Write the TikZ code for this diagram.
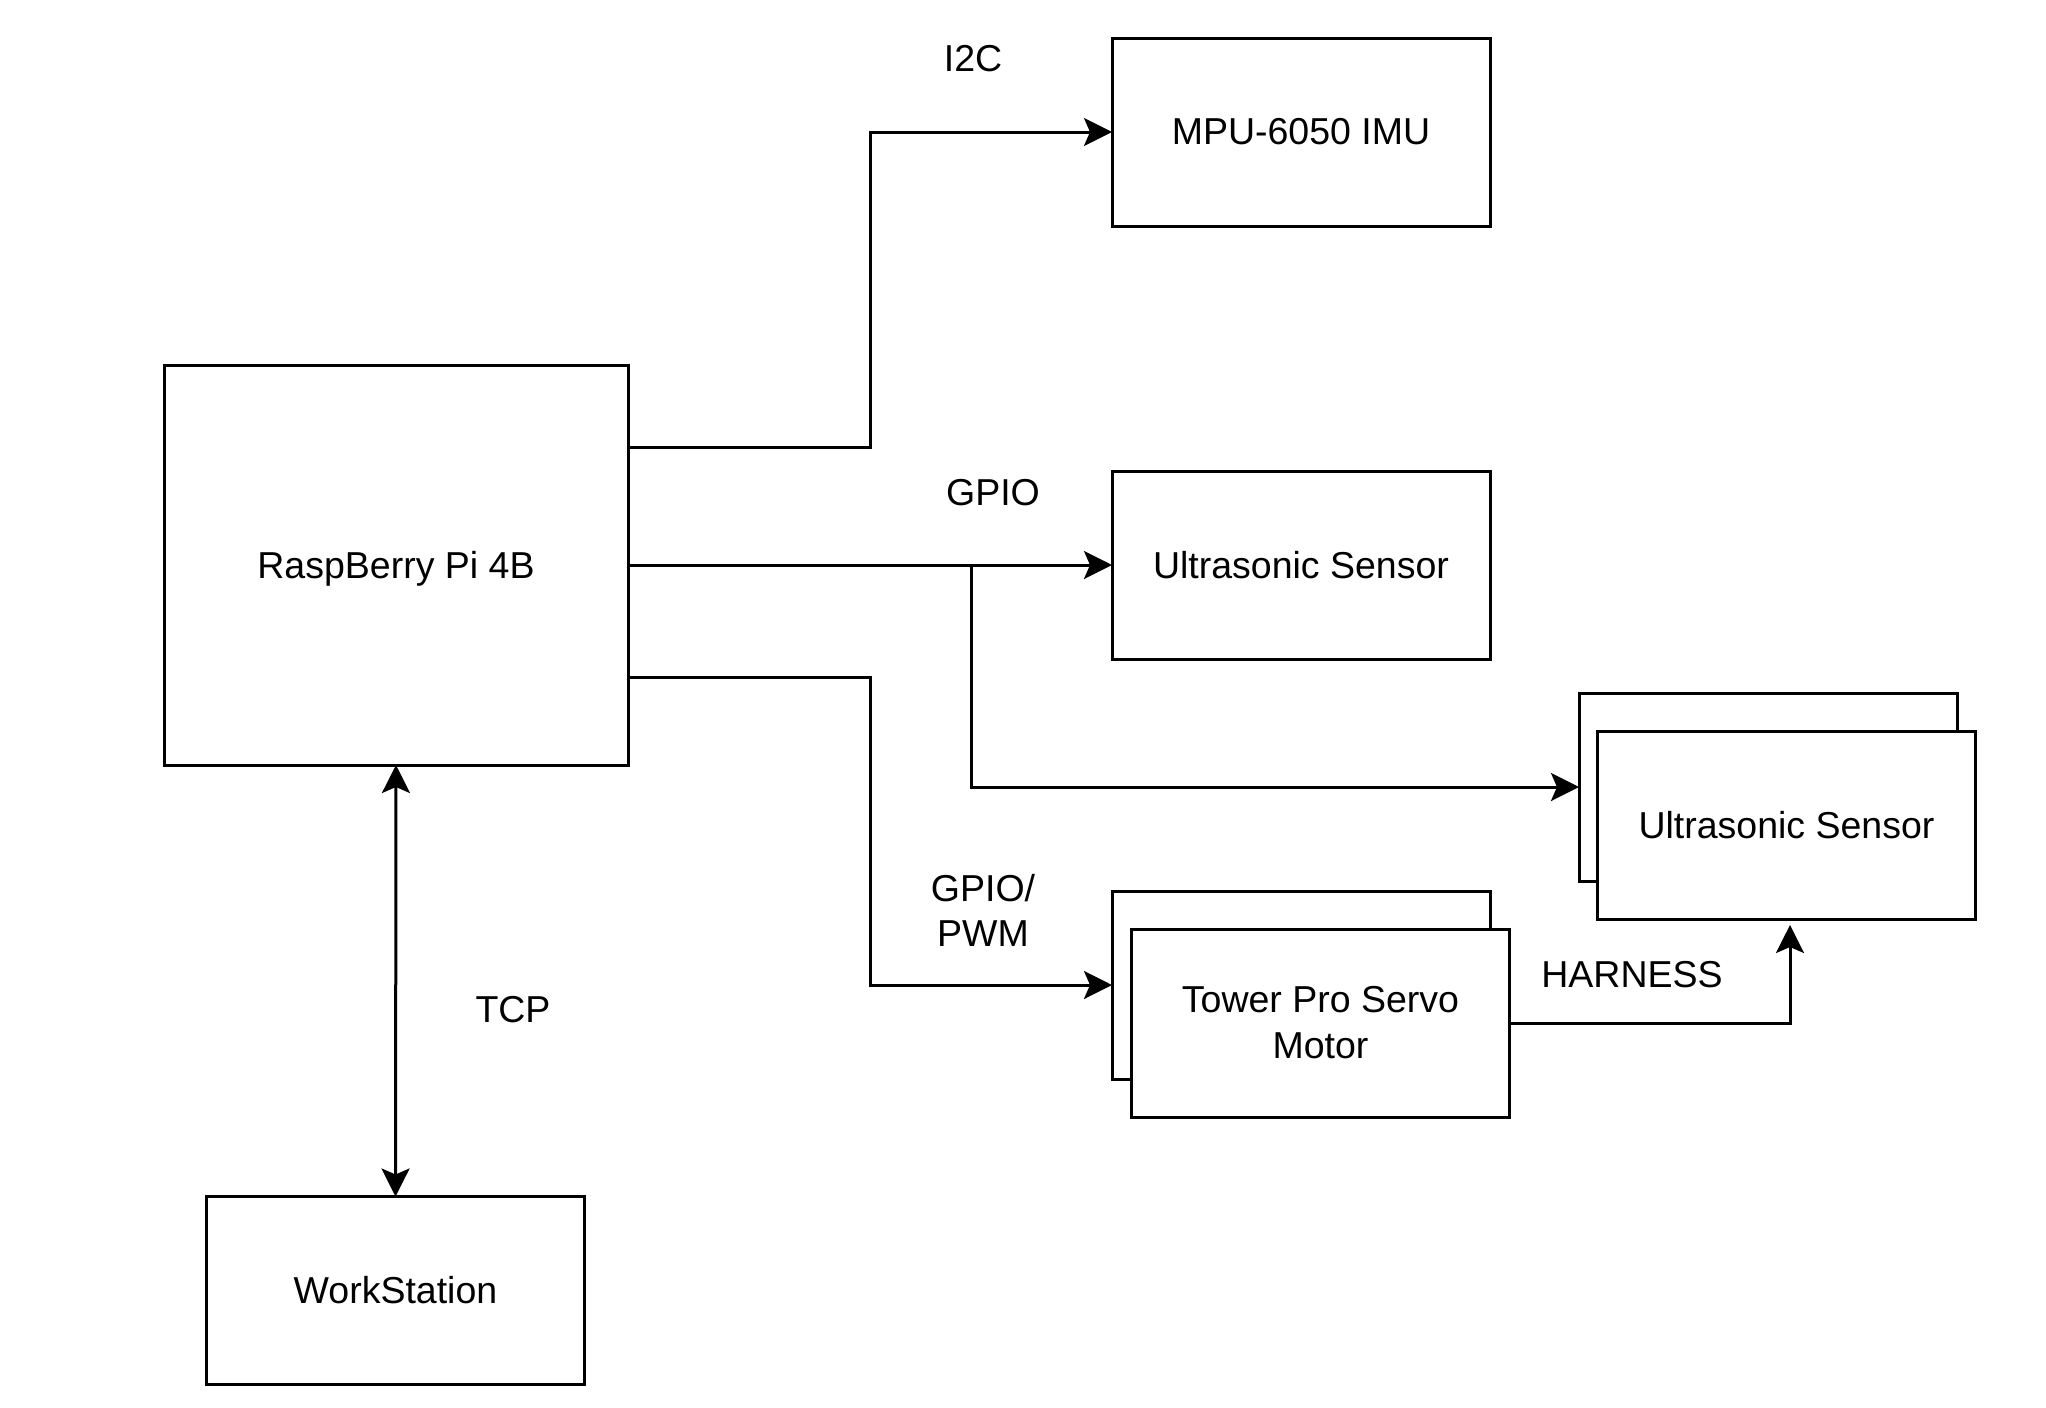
\documentclass[tikz,border=0pt]{standalone}
\usepackage{fontspec}
\setmainfont{Liberation Sans}
\usetikzlibrary{arrows.meta}
\begin{document}
\begin{tikzpicture}[x=1pt,y=-1pt,
  box/.style={draw=black,line width=3pt,fill=white,inner sep=0pt,outer sep=0pt,
    minimum width=378pt,minimum height=188pt,align=center,
    font=\fontsize{37.5}{46}\selectfont},
  lbl/.style={inner sep=0pt,align=center,font=\fontsize{37.5}{45}\selectfont},
  tip/.style={Stealth[length=28pt,width=28pt,inset=6pt]},
  conn/.style={draw=black,line width=3pt,-{Stealth[length=28pt,width=28pt,inset=6pt]}},
  dconn/.style={draw=black,line width=3pt,{Stealth[length=28pt,width=28pt,inset=6pt]}-{Stealth[length=28pt,width=28pt,inset=6pt]}}]
\useasboundingbox (0,0) rectangle (2046,1408);
\fill[white] (0,0) rectangle (2046,1408);

\node[box,minimum width=464pt,minimum height=400pt,text height=27.5pt,text depth=0pt] (rpi) at (396,565) {RaspBerry Pi 4B};
\node[box] (mpu) at (1301,132) {MPU-6050 IMU};
\node[box] (us1) at (1301,565) {Ultrasonic Sensor};
\node[box] (us2b) at (1768,787) {};
\node[box] (us2f) at (1786.5,825) {Ultrasonic Sensor};
\node[box] (srvb) at (1301,985) {};
\node[box] (srvf) at (1320.5,1023) {Tower Pro Servo\\Motor};
\node[box] (ws) at (395.5,1290.5) {WorkStation};

\coordinate (br) at (971,565);
\coordinate (hend) at (1790,925);

\draw[conn] ([yshift=117.5pt]rpi.east) -- ++(242.5,0) |- (mpu.west);
\draw[conn] (rpi.east) -- (us1.west);
\draw[conn] (br) |- (us2b.west);
\draw[conn] ([yshift=-112pt]rpi.east) -- ++(242.5,0) |- (srvb.west);
\draw[conn] (srvf.east) -| (hend);
\draw[dconn] (rpi.south) -- (ws.north);

\node[lbl] (l1) at (973,59) {I2C};
\node[lbl] (l2) at (993,493) {GPIO};
\node[lbl] (l3) at (983,910) {GPIO/\\PWM};
\node[lbl] (l4) at (513,1010) {TCP};
\node[lbl] (l5) at (1632,975) {HARNESS};
\end{tikzpicture}
\end{document}
